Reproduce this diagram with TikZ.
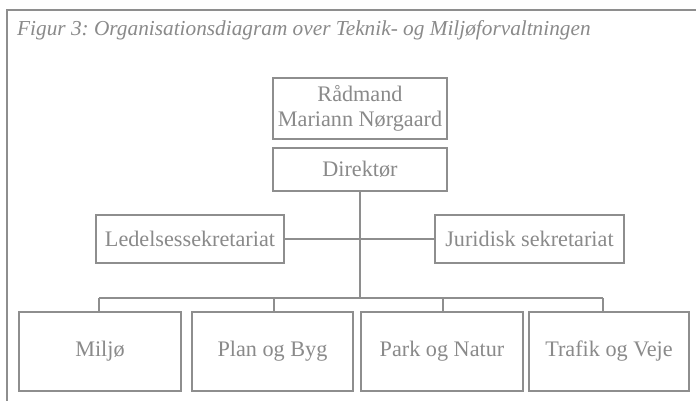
\documentclass[tikz,border=0pt]{standalone}
\usepackage{fontspec}
\setmainfont{Liberation Serif}
\frenchspacing
\begin{document}
\begin{tikzpicture}[x=1pt,y=-1pt,
  ink/.style={draw=linegrey,line width=1.6pt},
  unit/.style={ink,fill=white,text=textgrey,font=\fontsize{22.2}{25}\selectfont,
    inner sep=0pt,align=center,anchor=center},
  link/.style={draw=linegrey,line width=1.6pt}]
\definecolor{linegrey}{HTML}{8E8E8E}
\definecolor{textgrey}{HTML}{8A8A8A}
\useasboundingbox (0,0) rectangle (696,400);
\fill[white] (0,0) rectangle (696,400);
% frame and caption
\draw[link] (7,402) -- (7,10) -- (698,10);
\node[anchor=base west,text=textgrey,inner sep=0pt,
  font=\fontsize{21.3}{25}\selectfont\itshape] (cap) at (17,35)
  {Figur 3: Organisationsdiagram over Teknik- og Miljøforvaltningen};
% management
\node[unit,minimum width=174pt,minimum height=61pt] (raad) at (360,108.5)
  {Rådmand\\Mariann Nørgaard};
\node[unit,minimum width=174pt,minimum height=43pt] (dir) at (360,169.5) {Direktør};
% staff functions
\node[unit,minimum width=188pt,minimum height=48pt] (led) at (190,239) {Ledelsessekretariat};
\node[unit,minimum width=189pt,minimum height=48pt] (jur) at (529.5,239) {Juridisk sekretariat};
% departments
\node[unit,minimum width=162pt,minimum height=79pt] (miljo) at (100,351.5) {Miljø};
\node[unit,minimum width=161pt,minimum height=79pt] (plan) at (272.5,351.5) {Plan og Byg};
\node[unit,minimum width=162pt,minimum height=79pt] (park) at (442,351.5) {Park og Natur};
\node[unit,minimum width=160pt,minimum height=79pt] (trafik) at (609,351.5) {Trafik og Veje};
% connectors
\coordinate (busL) at (99,298);
\coordinate (busR) at (603,298);
\coordinate (dPlan) at (274,298);
\coordinate (dPark) at (443,298);
\draw[link] (led.east) -- (jur.west);
\draw[link] (dir.south) -- (dir.south |- busL);
\draw[link] (busL) -- (busR);
\draw[link] (busL) -- (busL |- miljo.north);
\draw[link] (dPlan) -- (dPlan |- plan.north);
\draw[link] (dPark) -- (dPark |- park.north);
\draw[link] (busR) -- (busR |- trafik.north);
\end{tikzpicture}
\end{document}
